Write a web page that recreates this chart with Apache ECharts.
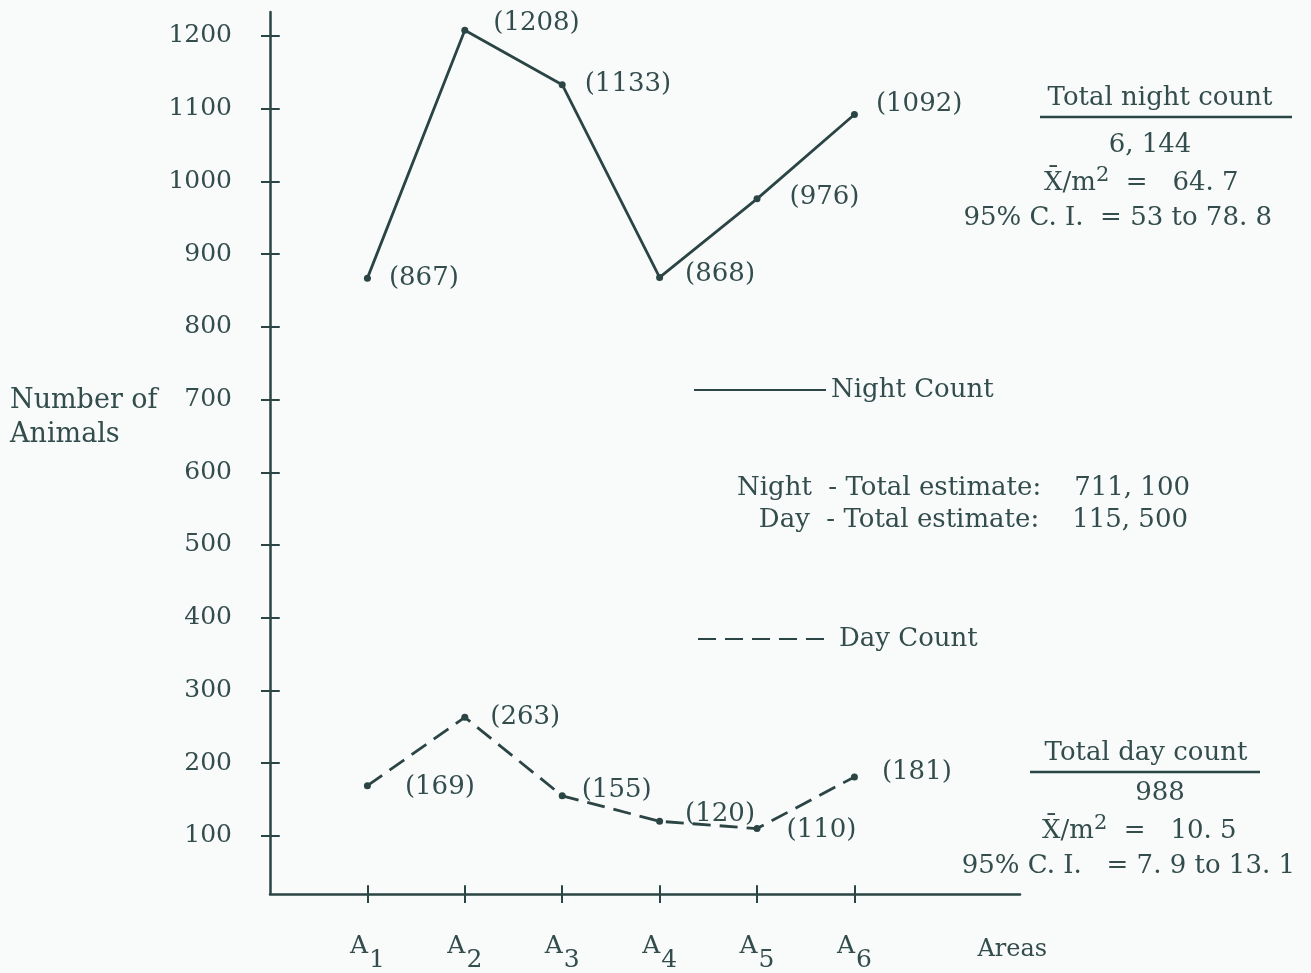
<!DOCTYPE html>
<html>
<head>
<meta charset="utf-8">
<script src="https://cdn.jsdelivr.net/npm/echarts@6/dist/echarts.min.js"></script>
<style>
  html, body { margin: 0; padding: 0; background: #f9fbfb; }
  #chart { width: 1311px; height: 973px; }
</style>
</head>
<body>
<div id="chart"></div>
<script>
// areas A1..A6, x position = index + 1
const areas = ['1', '2', '3', '4', '5', '6'];
const nightCounts = [867, 1208, 1133, 868, 976, 1092];
const dayCounts = [169, 263, 155, 120, 110, 181];
const yTicks = [100, 200, 300, 400, 500, 600, 700, 800, 900, 1000, 1100, 1200];
const areasLabelPos = 7.62;
const xMin = 0, xMax = 7.7, yMin = 20, yMax = 1233;

// label nudges (style only)
const nightLabelOffset = [[0, 0], [7, -7], [1, 0], [4, -3], [11, -2], [0, -10]];
const dayLabelOffset = [[16, 2], [4, 0], [-2, -6], [4, -7], [8, 2], [6, -5]];

const ink = '#2b4444';
const textInk = '#334c4c';
const serif = 'DejaVu Serif';
const fs = 26;

let chart = echarts.init(document.getElementById('chart'));

const xPos = areas.map((a, i) => i + 1);

function buildData(values, offsets) {
  return values.map((v, i) => ({
    value: [xPos[i], v],
    label: { offset: offsets[i] }
  }));
}

// inner half of the crossing ticks, in data units
const innerTicks = yTicks.map(v => [{ coord: [xMin, v] }, { coord: [xMin + 0.1, v] }])
  .concat(xPos.map(x => [{ coord: [x, yMin] }, { coord: [x, yMin + 12] }]));

function txt(x, y, text, align) {
  return {
    type: 'text',
    style: { x: x, y: y, text: text, textAlign: align, textVerticalAlign: 'middle', fontFamily: serif, fontSize: fs, fill: textInk }
  };
}

function meanText(x, y, rest) {
  return {
    type: 'text',
    style: {
      x: x, y: y, textVerticalAlign: 'middle',
      text: '{t|X\u0304/m}{sup|2}{t|' + rest + '}',
      rich: {
        t: { fontFamily: serif, fontSize: fs, fill: textInk, padding: [6, 0, 0, 0] },
        sup: { fontFamily: serif, fontSize: 21, fill: textInk, padding: [0, 0, 8, 0] }
      }
    }
  };
}

const options = {
  backgroundColor: '#f9fbfb',
  animation: false,
  grid: { left: 270, right: 291, top: 12, bottom: 78 },
  xAxis: {
    type: 'value',
    min: xMin,
    max: xMax,
    axisLine: { show: true, onZero: false, lineStyle: { color: ink, width: 2.5 } },
    axisTick: { show: true, length: 9, customValues: xPos, lineStyle: { color: ink, width: 2 } },
    splitLine: { show: false },
    axisLabel: {
      customValues: xPos.concat([areasLabelPos]),
      margin: 40,
      formatter: function (v) {
        if (v > 7) return '{ar|Areas}';
        return '{a|A}{s|' + areas[Math.round(v) - 1] + '}';
      },
      rich: {
        a: { fontFamily: serif, fontSize: 25, color: textInk, padding: [0, 1, 14, 0] },
        s: { fontFamily: serif, fontSize: 25, color: textInk, padding: [14, 0, 0, 0] },
        ar: { fontFamily: serif, fontSize: 24, color: textInk, padding: [4, 0, 10, 0] }
      }
    }
  },
  yAxis: {
    type: 'value',
    min: yMin,
    max: yMax,
    axisLine: { show: true, onZero: false, lineStyle: { color: ink, width: 2.5 } },
    axisTick: { show: true, length: 9, customValues: yTicks, lineStyle: { color: ink, width: 2 } },
    splitLine: { show: false },
    axisLabel: {
      customValues: yTicks,
      margin: 38,
      color: textInk,
      fontFamily: serif,
      fontSize: 25,
      formatter: function (v) { return String(v); }
    }
  },
  legend: [
    {
      data: ['Night Count'],
      left: 688,
      top: 372,
      itemWidth: 132,
      itemHeight: 20,
      itemStyle: { opacity: 0 },
      textStyle: { fontFamily: serif, fontSize: fs, color: textInk }
    },
    {
      data: ['Day Count'],
      left: 692,
      top: 621,
      itemWidth: 132,
      itemHeight: 20,
      itemStyle: { opacity: 0 },
      textStyle: { fontFamily: serif, fontSize: fs, color: textInk, padding: [0, 0, 0, 4] }
    }
  ],
  series: [
    {
      name: 'Night Count',
      type: 'line',
      symbol: 'circle',
      symbolSize: 7,
      itemStyle: { color: ink },
      lineStyle: { color: ink, width: 2.8, type: 'solid' },
      label: {
        show: true,
        position: 'right',
        distance: 18,
        fontFamily: serif,
        fontSize: fs,
        color: textInk,
        formatter: function (p) { return '(' + p.value[1] + ')'; }
      },
      markLine: {
        silent: true,
        symbol: ['none', 'none'],
        label: { show: false },
        lineStyle: { color: ink, width: 2, type: 'solid', opacity: 1 },
        data: innerTicks
      },
      data: buildData(nightCounts, nightLabelOffset)
    },
    {
      name: 'Day Count',
      type: 'line',
      symbol: 'circle',
      symbolSize: 7,
      itemStyle: { color: ink },
      lineStyle: { color: ink, width: 2.8, type: [18, 9] },
      label: {
        show: true,
        position: 'right',
        distance: 18,
        fontFamily: serif,
        fontSize: fs,
        color: textInk,
        formatter: function (p) { return '(' + p.value[1] + ')'; }
      },
      data: buildData(dayCounts, dayLabelOffset)
    }
  ],
  graphic: [
    {
      type: 'text', left: 10, top: 384,
      style: { text: 'Number of\nAnimals', fontFamily: serif, fontSize: 27, lineHeight: 34, fill: textInk }
    },
    // night summary
    txt(1160, 98, 'Total night count', 'center'),
    { type: 'line', shape: { x1: 1040, y1: 117, x2: 1292, y2: 117 }, style: { stroke: ink, lineWidth: 2.5 } },
    txt(1150, 145, '6, 144', 'center'),
    meanText(1044, 180, '  =   64. 7'),
    txt(1272, 218, '95% C. I.  = 53 to 78. 8', 'right'),
    // estimates
    txt(1190, 488, 'Night  - Total estimate:    711, 100', 'right'),
    txt(1188, 520, 'Day  - Total estimate:    115, 500', 'right'),
    // day summary
    txt(1146, 753, 'Total day count', 'center'),
    { type: 'line', shape: { x1: 1030, y1: 772, x2: 1260, y2: 772 }, style: { stroke: ink, lineWidth: 2.5 } },
    txt(1160, 793, '988', 'center'),
    meanText(1042, 828, '  =   10. 5'),
    txt(1295, 866, '95% C. I.   = 7. 9 to 13. 1', 'right')
  ]
};

chart.setOption(options);
</script>
</body>
</html>
